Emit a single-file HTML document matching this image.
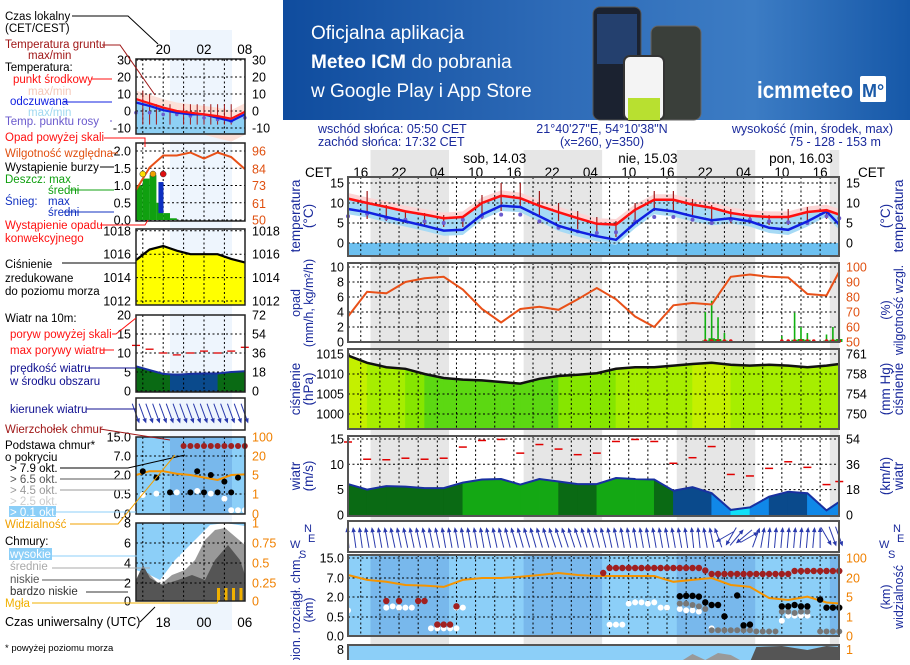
<!DOCTYPE html>
<html><head><meta charset="utf-8">
<style>
body{margin:0;width:910px;height:660px;overflow:hidden;background:#fff;font-family:"Liberation Sans",sans-serif}
svg text{font-family:"Liberation Sans",sans-serif}
</style></head>
<body>
<svg id="c" width="910" height="660" viewBox="0 0 910 660">
<defs>
<linearGradient id="bg" x1="0" x2="1" y1="0" y2="0">
<stop offset="0" stop-color="#0f4c9e"/><stop offset="0.45" stop-color="#2f6cb8"/><stop offset="0.75" stop-color="#3c7cc4"/><stop offset="1" stop-color="#1658a8"/>
</linearGradient>
</defs>
<g>
<rect x="283" y="0" width="627" height="120" fill="url(#bg)"/>
<text x="311" y="39" fill="#fff" font-size="19">Oficjalna aplikacja</text>
<text x="311" y="68" fill="#fff" font-size="19"><tspan font-weight="bold">Meteo ICM</tspan> do pobrania</text>
<text x="311" y="97" fill="#fff" font-size="19">w Google Play i App Store</text>
<rect x="593" y="7" width="48" height="113" rx="7" fill="#1b2230" stroke="#555"/>
<rect x="597" y="14" width="40" height="50" fill="#24406e"/>
<rect x="651" y="26" width="50" height="94" rx="7" fill="#3a3f3a" stroke="#666"/>
<rect x="624" y="56" width="40" height="64" rx="6" fill="#f4f4f4" stroke="#333" stroke-width="2"/>
<rect x="628" y="98" width="32" height="22" fill="#b8e030"/>
<text x="757" y="98" fill="#fff" font-size="23" font-weight="bold" textLength="96" lengthAdjust="spacingAndGlyphs">icmmeteo</text>
<rect x="860" y="76" width="26" height="26" fill="#fff" rx="2"/>
<text x="862" y="97" fill="#1a5aa8" font-size="18" font-weight="bold">M°</text>
</g>
<g id="legend" font-size="11.5">
<rect x="170" y="30" width="62" height="600" fill="#eef5fd"/>
<text x="5" y="20">Czas lokalny</text><text x="5" y="32">(CET/CEST)</text>
<text x="5" y="48" fill="#a01818">Temperatura gruntu</text><text x="28" y="59" fill="#a01818">max/min</text>
<text x="5" y="71">Temperatura:</text>
<text x="13" y="83" fill="#ff1010">punkt środkowy</text>
<text x="28" y="95" fill="#f5c8b8">max/min</text>
<text x="10" y="105" fill="#1020e0">odczuwana</text>
<text x="28" y="116" fill="#a0d8f0">max/min</text>
<text x="5" y="125" fill="#6a5acd">Temp. punktu rosy</text>
<text x="5" y="141" fill="#ff1010">Opad powyżej skali</text>
<text x="5" y="157" fill="#e05010">Wilgotność względna</text>
<text x="5" y="171">Wystąpienie burzy</text>
<text x="5" y="183" fill="#10a010">Deszcz: max</text>
<text x="48" y="194" fill="#10a010">średni</text>
<text x="5" y="205" fill="#1030c0">Śnieg:</text><text x="48" y="205" fill="#1030c0">max</text>
<text x="48" y="216" fill="#1030c0">średni</text>
<text x="5" y="229" fill="#ff1010">Wystąpienie opadu</text>
<text x="5" y="242" fill="#ff1010">konwekcyjnego</text>
<text x="5" y="268">Ciśnienie</text><text x="5" y="282">zredukowane</text><text x="5" y="295">do poziomu morza</text>
<text x="5" y="322">Wiatr na 10m:</text>
<text x="10" y="338" fill="#ff1010">poryw powyżej skali</text>
<text x="10" y="354" fill="#ff1010">max porywy wiatru</text>
<text x="10" y="372" fill="#101090">prędkość wiatru</text>
<text x="10" y="385" fill="#101090">w środku obszaru</text>
<text x="10" y="413" fill="#101090">kierunek wiatru</text>
<text x="5" y="433" fill="#a01818">Wierzchołek chmur</text>
<text x="5" y="449">Podstawa chmur*</text><text x="5" y="461">o pokryciu</text>
<text x="10" y="472">&gt; 7.9 okt.</text>
<text x="10" y="483" fill="#555">&gt; 6.5 okt.</text>
<text x="10" y="494" fill="#999">&gt; 4.5 okt.</text>
<text x="10" y="505" fill="#ccc">&gt; 2.5 okt.</text>
<rect x="9" y="506" width="47" height="11" fill="#8ccff8"/>
<text x="10" y="516" fill="#fff">&gt; 0.1 okt.</text>
<text x="5" y="528" fill="#f0a000">Widzialność</text>
<text x="5" y="545">Chmury:</text>
<rect x="9" y="548" width="43" height="12" fill="#8ccff8"/>
<text x="10" y="558" fill="#fff">wysokie</text>
<text x="10" y="570" fill="#aaa">średnie</text>
<text x="10" y="583" fill="#555">niskie</text>
<text x="10" y="595" fill="#333">bardzo niskie</text>
<text x="5" y="607" fill="#f0b000">Mgła</text>
<text x="5" y="626" font-size="12.5">Czas uniwersalny (UTC)</text>
<text x="5" y="651" font-size="9.5">* powyżej poziomu morza</text>
</g>
</svg>
<script>
const NS='http://www.w3.org/2000/svg';
const svg=document.getElementById('c');
function mk(tag,a,p){const e=document.createElementNS(NS,tag);for(const k in a)e.setAttribute(k,a[k]);(p||svg).appendChild(e);return e;}
function tx(x,y,s,a,p){const e=mk('text',Object.assign({x:x,y:y},a||{}),p);e.textContent=s;return e;}

/* ===== main chart data (t = hours from 14:00 CET 13.03) ===== */
const T=[0,3,6,9,12,15,18,21,24,27,30,33,36,39,42,45,48,51,54,57,60,63,66,69,72,75,77];
const tempMid=[11.1,10,9,7.9,7.1,6.2,6.5,10,11.8,11.2,9.3,7.7,6.2,4.8,4.6,8.3,10.8,10.8,9.6,8.8,7.5,6.8,6.5,6.5,7.75,8.2,7.1];
const tempFelt=[8.5,7.7,6.5,5.4,4.3,3.1,3.3,7.1,9.3,9,6.7,4.3,2.9,1.7,0.8,5,8.5,7.9,6.7,5.7,6.2,5.4,3.8,3.3,5.4,7.9,4.6];
const dewPoint=[6.7,7.3,6.2,5.8,5.4,5,5.8,6.7,7.1,7.1,5.4,3.8,2.9,2.5,2.7,5.4,6.5,6.5,5.8,5,5.8,5.8,5.4,5.2,5,6.7,6.2];
const groundMax=[14,13,9.5,8,7.5,7,6.5,12,15,15,13,10,8,6.5,5.5,10,13,13,11,9.5,8.5,7,7,8.5,9,8.5,8];
const groundMin=[6,6,5.5,5,4.5,4,4,6,8,9,7,5.5,3.5,2.5,1.5,5,8,8,7,6,5,5,4.5,4.5,5.5,6,6];
const humidity=[67,83.5,82.5,90,92.5,93.5,85,72,63,72,73.5,71.5,78.5,86,78.5,67,60,74.5,76,75,93.5,95,93.5,93,82,81,97];
const pressure=[1014.6,1012.8,1011.7,1011.3,1010,1009,1008.6,1008.4,1008,1007.6,1008.8,1009.5,1009.8,1010.2,1011.3,1011.7,1011.7,1012.1,1012.5,1012.8,1012.3,1012.1,1012.3,1012.1,1011.7,1012.1,1012.5];
const windSpeed=[6.1,5,5.7,5.6,5.3,5.3,6.4,7,7.1,6,7.1,6.6,6.1,6.1,7.3,7.1,7,4.8,5.5,4.3,1,1.5,3.6,4.6,4.3,0.9,2.6];
const windGust=[14.4,11,10.9,11.2,11,11.2,13.4,14.7,14.9,12.2,13.9,13,11.9,12.2,14.5,14.9,14.5,10.2,11.3,13.5,8,7.7,9.2,10.5,9.4,6,6.6];
const visibility=[32,18.5,17,14.5,14,13,18.5,20,20,25,32,40,32,28,28,28,28,17,18.5,20,14.5,13,4.8,4.4,5.2,3.9,3.7];
const precipT=[56,57,58,59,60,68,69,70,71,72,73,75,76,77];
const precipMax=[4,5.5,3.3,1.2,0.2,0.8,0.3,3.9,2,1.2,0.3,1,2,3.2];
const precipAvg=[0.2,0.5,0.4,0.2,0,0.1,0.1,0.3,0.4,0.3,0,0.2,0.3,0.4];
const windDir=[-5,-8,-8,-10,-10,-10,-10,-12,-12,-12,-12,-12,-12,-12,-12,-10,-10,-10,-10,-10,-10,-10,-12,-12,-14,-14,-16,-16,-16,-16,-16,-16,-18,-18,-18,-18,-18,-16,-16,-14,-14,-12,-12,-10,-10,-10,-10,-10,-10,-10,-10,-10,-10,-8,-6,-6,-10,-12,-20,-120,-150,40,-130,60,20,10,5,5,5,5,5,5,5,5,0,150,160,160];
const topT=[40,41,42,43,44,45,46,47,48,49,50,51,52,53,54,55,56,57,58,59,60,61,62,63,64,65,66,67,68,69,70,71,72,73,74,75,76,77,6,8,11,12,14,15,16,17];
const topH=[9,11,11,11,11,11,11,11,11,11,11,11,11,11,11,11,10,8.6,8.6,8.6,8.6,8.6,8.6,8.6,8.6,8.6,8.6,8.6,8.6,8.6,9.8,9.8,9.8,9.8,9.8,9.8,9.8,9.8,1.7,1.7,1.7,1.7,0.3,0.3,0.3,1.3];
const blackT=[52,53,54,55,56,57,58,59,61,62,63,68,69,70,71,72,74,75,76,77];
const blackH=[2.2,2.3,2.3,2.1,1.6,1.4,1.4,0.55,2.4,0.28,0.3,1.3,1.3,1.4,1.3,1.3,1.8,1.2,1.2,1.2];
const greyT=[52,53,54,55,56,57,58,59,60,61,62,63,64,65,66,67,68,69,70,71,72,74,75,76,77];
const greyH=[1.5,1.5,1.4,1.3,1.1,0.15,0.15,0.15,0.15,0.15,0.15,0.15,0.12,0.12,0.12,0.12,0.9,0.9,0.8,0.9,0.9,0.12,0.12,0.12,0.12];
const whiteT=[0,6,7,8,9,10,13,14,15,16,17,17,18,41,42,43,44,45,46,47,48,49,50,52,53,54,55,57,68,69,70,71,72];
const whiteH=[1,1.2,1.3,1.2,1.2,1.2,0.2,0.2,0.2,0.2,0.2,1.2,1.2,0.3,0.3,0.3,1.5,1.6,1.6,1.5,1.6,1.2,1.2,1.1,1.0,1.0,0.9,0.2,0.4,0.6,0.6,0.6,0.6];
const nightStart=[3.53,27.53,51.53,75.53];
const nightEnd=[15.83,39.83,63.83,77];
const hourLabels=['16','22','04','10','16','22','04','10','16','22','04','10','16'];
const dayLabels=['sob, 14.03','nie, 15.03','pon, 16.03'];
const dayT=[23,47,71];
const tempTicks=[15,10,5,0];
const precTicks=[10,8,6,4,2,0];
const humTicks=[100,90,80,70,60,50];
const presTicks=[1015,1010,1005,1000];
const mmHgTicks=['761','758','754','750'];
const windTicks=[15,10,5,0];
const kmhTicks=['54','36','18','0'];
const cloudTicks=['15.0','7.0','2.0','0.5','0.0'];
const visTicks=['100','20','5','1','0'];

const X0=348,X1=839,PX=6.38;
const X=t=>X0+t*PX;
const yT=v=>243-v*4;
const yP=v=>342-v*7.5;
const yH=h=>yP((h-50)/5);
const yPr=p=>354+(1015-p)*4;
const yW=v=>515-v*5.07;
const CY=[636,617,597,578,558];
function pw(v,ks){for(let i=0;i<ks.length-1;i++){if(v<=ks[i+1]){return CY[i]+(v-ks[i])/(ks[i+1]-ks[i])*(CY[i+1]-CY[i]);}}return CY[4];}
const yC=v=>pw(v,[0,0.5,2,7,15]);
const yV=v=>pw(v,[0,1,5,20,100]);
const line=(xs,ys)=>xs.map((x,i)=>(i?'L':'M')+x.toFixed(1)+','+ys[i].toFixed(1)).join('');

const PAN={temp:[177,256],prec:[263,342],pres:[349,429],wind:[436,516],dir:[521,552],cloud:[555,636],cl2:[645,664]};

for(let i=0;i<nightStart.length;i++){
  const r=mk('rect',{x:X(nightStart[i]),y:150,width:X(nightEnd[i])-X(nightStart[i]),height:510,fill:'#e6e6e6'});
  
  
}
const hd=mk('g',{fill:'#1a2a9c','font-size':12.5});


tx(318,133,'wschód słońca: 05:50 CET',{},hd);tx(318,146,'zachód słońca: 17:32 CET',{},hd);
tx(602,133,'21°40\'27"E, 54°10\'38"N',{'text-anchor':'middle'},hd);tx(602,146,'(x=260,  y=350)',{'text-anchor':'middle'},hd);
tx(893,133,'wysokość (min, środek, max)',{'text-anchor':'end'},hd);tx(835,146,'75 - 128 - 153 m',{'text-anchor':'middle'},hd);
const tl=mk('g',{'font-size':13.5});


tx(305,177,'CET',{},tl);tx(858,177,'CET',{},tl);
hourLabels.forEach((s,i)=>{tx(X(2+6*i),177,s,{'text-anchor':'middle'},tl);});
dayLabels.forEach((s,i)=>{tx(X(dayT[i]),163,s,{'text-anchor':'middle'},tl);});

function grid(p,ys){
  const g=mk('g',{stroke:'#000','stroke-width':1,'stroke-dasharray':'2,2.5',fill:'none'});
  
  
  for(let t=2;t<77;t+=3)mk('line',{x1:X(t),x2:X(t),y1:p[0],y2:p[1]},g);
  ys.forEach(y=>mk('line',{x1:X0,x2:X1,y1:y,y2:y},g));
}
function frame(p,name){
  const r=mk('rect',{x:X0,y:p[0],width:X1-X0,height:p[1]-p[0],fill:'none',stroke:'#555','stroke-width':2});
  
  
}
function ticks(vals,ys,side,color){
  const g=mk('g',{'font-size':12.5,fill:color||'#000','text-anchor':side=='l'?'end':'start'});
  
  
  vals.forEach((v,i)=>tx(side=='l'?344:846,ys[i]+4.5,String(v),{},g));
}
function vlab(cx,cy,a,b,name,fs){
  const g=mk('g',{fill:'#1a2a9c','font-size':fs||13.5,'text-anchor':'middle',transform:'translate('+cx+','+cy+') rotate(-90)'});
  
  
  tx(0,0,a,{},g);tx(0,13,b,{},g);
}

/* temperature */
{const p=PAN.temp;
const bz=mk('rect',{x:X0,y:yT(0),width:X1-X0,height:p[1]-yT(0),fill:'#6cc0f0'});


const xs=T.map(X);
const pk=mk('path',{d:line(xs,tempMid.map(v=>yT(v+1.4)))+line(xs.slice().reverse(),tempMid.slice().reverse().map(yT)).replace('M','L')+'Z',fill:'#fcd6d6'});


const lb=mk('path',{d:line(xs,tempMid.map(yT))+line(xs.slice().reverse(),tempFelt.slice().reverse().map(v=>yT(v-1.3))).replace('M','L')+'Z',fill:'#a6daf5'});


grid(p,tempTicks.map(yT));
T.forEach((t,i)=>{const b=mk('line',{x1:X(t),x2:X(t),y1:yT(groundMax[i]),y2:yT(groundMin[i]),stroke:'#a01818','stroke-width':1.2});

});
T.forEach((t,i)=>{const d=mk('circle',{cx:X(t),cy:yT(dewPoint[i]),r:2,fill:'#6a5acd'});

});
const bl=mk('path',{d:line(xs,tempFelt.map(yT)),stroke:'#1020e0','stroke-width':2.5,fill:'none'});


const rl=mk('path',{d:line(xs,tempMid.map(yT)),stroke:'#ff1010','stroke-width':2.5,fill:'none'});


frame(p,'temp-panel');
ticks(tempTicks,tempTicks.map(yT),'l');ticks(tempTicks,tempTicks.map(yT),'r');
vlab(300,216,'temperatura','(°C)','temp-y-title');vlab(890,216,'(°C)','temperatura','temp-y2-title');}

/* precipitation + humidity */
{const p=PAN.prec;
grid(p,precTicks.map(yP));
precipT.forEach((t,i)=>{
  const b=mk('rect',{x:X(t)-0.8,y:yP(precipMax[i]),width:1.6,height:342-yP(precipMax[i]),fill:'#10b010'});
  
  
  const a=mk('rect',{x:X(t)-3.2,y:yP(precipAvg[i]),width:6.4,height:342-yP(precipAvg[i]),fill:'#10b010'});
  
  
  const c=mk('circle',{cx:X(t),cy:341,r:1.8,fill:'#e01010'});
  
  
});
const hl=mk('path',{d:line(T.map(X),humidity.map(yH)),stroke:'#e85018','stroke-width':2,fill:'none'});


frame(p,'precip-panel');
ticks(precTicks,precTicks.map(yP),'l');ticks(humTicks,humTicks.map(yH),'r','#e05010');
vlab(300,303,'opad','(mm/h, kg/m²/h)','precip-y-title',12.5);vlab(890,310,'(%)','wilgotność wzgl.','humidity-y-title',12.5);}

/* pressure */
{const p=PAN.pres;
for(let i=0;i<T.length-1;i++){
  const m=(pressure[i]+pressure[i+1])/2;
  const col=m>1012.4?'#c4f000':m>1011?'#a6ee00':m>1009.5?'#86e600':'#5cd812';
  const s=mk('path',{d:'M'+X(T[i])+','+yPr(pressure[i])+'L'+X(T[i+1])+','+yPr(pressure[i+1])+'L'+X(T[i+1])+','+p[1]+'L'+X(T[i])+','+p[1]+'Z',fill:col,stroke:col,'stroke-width':0.5});
  
  
}
grid(p,presTicks.map(yPr));
const pl=mk('path',{d:line(T.map(X),pressure.map(yPr)),stroke:'#111','stroke-width':2.5,fill:'none'});


frame(p,'pressure-panel');
ticks(presTicks,presTicks.map(yPr),'l');ticks(mmHgTicks,presTicks.map(yPr),'r');
vlab(300,389,'ciśnienie','(hPa)','pressure-y-title');vlab(890,389,'(mm Hg)','ciśnienie','pressure-y2-title');}

/* wind */
{const p=PAN.wind;
grid(p,windTicks.map(yW));
for(let i=0;i<T.length-1;i++){
  const m=(windSpeed[i]+windSpeed[i+1])/2;
  const col=m<1.6?'#10e0f8':m<3.2?'#1088e8':m<5.2?'#0a4a8c':m<6.5?'#0a6a14':'#14a814';
  const s=mk('path',{d:'M'+X(T[i])+','+yW(windSpeed[i])+'L'+X(T[i+1])+','+yW(windSpeed[i+1])+'L'+X(T[i+1])+','+p[1]+'L'+X(T[i])+','+p[1]+'Z',fill:col,stroke:col,'stroke-width':0.5});
  
  
}
const wl=mk('path',{d:line(T.map(X),windSpeed.map(yW)),stroke:'#1830a0','stroke-width':2,fill:'none'});


T.forEach((t,i)=>{const g=mk('line',{x1:X(t)-4,x2:X(t)+4,y1:yW(windGust[i]),y2:yW(windGust[i]),stroke:'#e00000','stroke-width':1.5});

});
frame(p,'wind-panel');
ticks(windTicks,windTicks.map(yW),'l');ticks(kmhTicks,windTicks.map(yW),'r');
vlab(300,476,'wiatr','(m/s)','wind-y-title');vlab(890,476,'(km/h)','wiatr','wind-y2-title');}

/* wind direction */
{const p=PAN.dir;
const bgd=mk('rect',{x:X0,y:p[0],width:X1-X0,height:p[1]-p[0],fill:'#fff'});


windDir.forEach((d,t)=>{
  const g=mk('g',{transform:'translate('+X(t)+',537) rotate('+d+')',stroke:'#2a3aac','stroke-width':1,fill:'#2a3aac'});
  
  
  mk('line',{x1:0,y1:11,x2:0,y2:-8},g);
  mk('path',{d:'M0,-10L-2.2,-5L2.2,-5Z',stroke:'none'},g);
});
frame(p,'direction-panel');
[294,883].forEach(c=>{const g=mk('g',{fill:'#1a2a9c','font-size':11});


tx(c+10,532,'N',{},g);tx(c-4,548,'W',{},g);tx(c+5,558,'S',{},g);tx(c+14,542,'E',{},g);});}

/* clouds / visibility */
{const p=PAN.cloud;
const bgc=mk('rect',{x:X0,y:p[0],width:X1-X0,height:p[1]-p[0],fill:'#8ccff8'});


for(let i=0;i<nightStart.length;i++){const r=mk('rect',{x:X(nightStart[i]),y:p[0],width:X(nightEnd[i])-X(nightStart[i]),height:p[1]-p[0],fill:'#78b8ec'});

}
grid(p,CY);
const vl=mk('path',{d:line(T.map(X),visibility.map(yV)),stroke:'#f59400','stroke-width':2,fill:'none'});


whiteT.forEach((t,i)=>{const c=mk('circle',{cx:X(t),cy:yC(whiteH[i]),r:3,fill:'#fff'});

});
greyT.forEach((t,i)=>{const c=mk('circle',{cx:X(t),cy:yC(greyH[i]),r:3,fill:'#777'});

});
blackT.forEach((t,i)=>{const c=mk('circle',{cx:X(t),cy:yC(blackH[i]),r:3.2,fill:'#000'});

});
topT.forEach((t,i)=>{const c=mk('circle',{cx:X(t),cy:yC(topH[i]),r:3.2,fill:'#a02020'});

});
frame(p,'cloud-panel');
ticks(cloudTicks,CY.slice().reverse(),'l');ticks(visTicks,CY.slice().reverse(),'r','#f08000');
vlab(300,610,'pion. rozciągł. chm.','(km)','cloud-y-title',12.5);vlab(890,597,'(km)','widzialność','visibility-y-title',12.5);}

/* bottom cloud cover panel (cut off) */
{const p=PAN.cl2;
const b=mk('rect',{x:X0,y:p[0],width:X1-X0,height:p[1]-p[0],fill:'#8ccff8',stroke:'#555','stroke-width':2});


const g1=mk('path',{d:'M'+X(52)+',662L'+X(54)+',654L'+X(56)+',660L'+X(58)+',653L'+X(60)+',655L'+X(62)+',662Z',fill:'#999'});


const g2=mk('path',{d:'M'+X(63)+',662L'+X(64)+',647L'+X(68)+',646L'+X(72)+',650L'+X(75)+',646L'+X(77)+',647L'+X(77)+',662Z',fill:'#555'});


tx(344,654,'8',{'text-anchor':'end','font-size':12.5});tx(846,654,'1',{fill:'#f08000','font-size':12.5});}

/* ===== mini legend chart ===== */
const mH=[0,2,4,6,8,10,12,14,16];
const mTemp=[7,4.5,2,0,-1,-2,-3,-4.5,-0.5];
const mFelt=[5,3,0.5,-1,-2,-2,-4,-6,-2];
const mDew=[-1,-1,-2,-2,-3,-4,-5,-6,-4];
const mHum=[70,85,93,93,95,91,95,92,84];
const mPres=[1015.5,1016.4,1016.7,1016.3,1016,1016,1016,1015.6,1015.3];
const mWind=[6.5,5.5,4.5,4.3,4.5,4.6,4.6,5,5.2];
const mGust=[12,11,10,9.5,10,10.5,10,10.5,11.5];
const mVis=[5,8,8,6,5,4.5,4,5,5.5];
const mRainH=[0,1,2,3,4,5];
const mRain=[1.0,1.2,1.3,0.5,0.2,0.05];
const mx=h=>136+h*6.8;
const MP={temp:[59,134],prec:[143,221],pres:[229,305],wind:[315,392],dir:[398,430],cloud:[437,514],cl2:[523,601]};
function mgrid(p,ys){const g=mk('g',{stroke:'#000','stroke-dasharray':'2,2.5',fill:'none'});


[1,4,7,10,13].forEach(h=>mk('line',{x1:mx(h),x2:mx(h),y1:p[0],y2:p[1]},g));ys.forEach(y=>mk('line',{x1:136,x2:245,y1:y,y2:y},g));}
function mframe(p){const r=mk('rect',{x:136,y:p[0],width:109,height:p[1]-p[0],fill:'none',stroke:'#222','stroke-width':1.5});

}
function mtick(labs,ys,side,col){const g=mk('g',{'font-size':12.5,fill:col||'#000','text-anchor':side=='l'?'end':'start'});


labs.forEach((s,i)=>tx(side=='l'?131:252,ys[i]+4.5,s,{},g));}
const mxs=mH.map(mx);
{const yt=v=>111-v*1.7;
const a=mk('path',{d:line(mxs,mTemp.map(v=>yt(v+5)))+line(mxs.slice().reverse(),mFelt.slice().reverse().map(v=>yt(v-12))).replace('M','L')+'Z',fill:'#fde0d8'});


const b=mk('path',{d:line(mxs,mTemp.map(yt))+'L245,134L136,134Z',fill:'#8ed0f4'});


mgrid(MP.temp,[30,20,10,0,-10].map(yt));
[1,2,3,5,7,8,9,10,11,12,13,14].forEach(h=>{const l=mk('line',{x1:mx(h),x2:mx(h),y1:yt(h<3?14-h*2:4),y2:yt(-8),stroke:'#a01818'});

});
mDew.forEach((v,i)=>{const c=mk('circle',{cx:mxs[i],cy:yt(v),r:1.8,fill:'#6a5acd'});

});
const f=mk('path',{d:line(mxs,mFelt.map(yt)),stroke:'#1020e0','stroke-width':2.2,fill:'none'});


const r=mk('path',{d:line(mxs,mTemp.map(yt)),stroke:'#ff1010','stroke-width':2.2,fill:'none'});


mframe(MP.temp);
mtick(['30','20','10','0','-10'],[30,20,10,0,-10].map(yt),'l');mtick(['30','20','10','0','-10'],[30,20,10,0,-10].map(yt),'r');
const tlm=mk('g',{'font-size':13.5,'text-anchor':'middle'});


tx(mx(4),54,'20',{},tlm);tx(mx(10),54,'02',{},tlm);tx(mx(16),54,'08',{},tlm);
tx(mx(4),627,'18',{},tlm);tx(mx(10),627,'00',{},tlm);tx(mx(16),627,'06',{},tlm);}
{const yp=v=>220-v*34.5;const yh=h=>220-(h-50)*1.5;
mgrid(MP.prec,[2,1.5,1,0.5,0].map(yp));
mRainH.forEach((h,i)=>{const b=mk('rect',{x:mx(h),y:yp(mRain[i]),width:6.8,height:220-yp(mRain[i]),fill:'#10a010'});

});
const s=mk('rect',{x:mx(3.3),y:yp(1.1),width:5,height:yp(0.2)-yp(1.1),fill:'#1030c0'});


const h=mk('path',{d:line(mxs,mHum.map(yh)),stroke:'#e85018','stroke-width':2,fill:'none'});


[[1,'#ffe000'],[2.5,'#f0a000'],[4,'#e01010']].forEach(c=>{const d=mk('circle',{cx:mx(c[0]),cy:174,r:3,fill:c[1],stroke:'#333','stroke-width':0.5});

});
mframe(MP.prec);
mtick(['2.0','1.5','1.0','0.5','0.0'],[2,1.5,1,0.5,0].map(yp),'l');mtick(['96','84','73','61','50'],[96,84,73,61,50].map(yh),'r','#e05010');}
{const yp=v=>301-(v-1012)*11.7;
const a=mk('path',{d:line(mxs,mPres.map(yp))+'L245,305L136,305Z',fill:'#ffff00'});


mgrid(MP.pres,[1018,1016,1014,1012].map(yp));
const l=mk('path',{d:line(mxs,mPres.map(yp)),stroke:'#000','stroke-width':2.2,fill:'none'});


mframe(MP.pres);
mtick(['1018','1016','1014','1012'],[1018,1016,1014,1012].map(yp),'l');mtick(['1018','1016','1014','1012'],[1018,1016,1014,1012].map(yp),'r');}
{const yw=v=>391-v*3.8;
const a=mk('path',{d:line(mxs,mWind.map(yw))+'L245,392L136,392Z',fill:'#0a6a14'});


const a2=mk('rect',{x:mx(5),y:yw(4.6),width:mx(12)-mx(5),height:392-yw(4.6),fill:'#0a4a8c'});


mgrid(MP.wind,[20,15,10,5,0].map(yw));
const l=mk('path',{d:line(mxs,mWind.map(yw)),stroke:'#1830a0','stroke-width':2,fill:'none'});


mGust.forEach((v,i)=>{const g=mk('line',{x1:mxs[i]-4,x2:mxs[i]+4,y1:yw(v),y2:yw(v),stroke:'#e00000','stroke-width':1.3});

});
mframe(MP.wind);
mtick(['20','15','10','5','0'],[20,15,10,5,0].map(yw),'l');mtick(['72','54','36','18','0'],[20,15,10,5,0].map(yw),'r');}
{for(let h=0;h<=16;h++){const g=mk('g',{transform:'translate('+mx(h)+',414) rotate(160)',stroke:'#2a3aac','stroke-width':1,fill:'#2a3aac'});


mk('line',{x1:0,y1:11,x2:0,y2:-8},g);mk('path',{d:'M0,-10L-2.2,-5L2.2,-5Z',stroke:'none'},g);}
mframe(MP.dir);}
{const ys=[514,494,475,456,437];const yc=v=>pw(v,[0,0.5,2,7,15])-636+514;
const bg=mk('rect',{x:136,y:437,width:109,height:77,fill:'#8ccff8'});


const nb=mk('rect',{x:170,y:437,width:62,height:77,fill:'#78b8ec'});


mgrid(MP.cloud,ys);
const v=mk('path',{d:line(mxs,mVis.map(x=>pw(x,[0,1,5,20,100])-122)),stroke:'#f59400','stroke-width':2,fill:'none'});


[7,8,9,10,11,12,13,14,15,16].forEach(h=>{const c=mk('circle',{cx:mx(h),cy:yc(11),r:3,fill:'#a02020'});

});
[[1,3],[3,1.8],[5,0.7],[8,0.7],[10,0.7],[12,0.7],[14,0.7],[9,3],[11,2],[13,1.5],[15,1.8]].forEach(d=>{const c=mk('circle',{cx:mx(d[0]),cy:yc(d[1]),r:3,fill:'#000'});

});
[[1,0.5],[3,0.6],[6,0.7],[9,0.8],[11,0.6],[13,0.4],[14,0.1],[15,0.1],[16,0.1]].forEach(d=>{const c=mk('circle',{cx:mx(d[0]),cy:yc(d[1]),r:3,fill:'#fff'});

});
mframe(MP.cloud);
mtick(['15.0','7.0','2.0','0.5','0.0'],ys.slice().reverse(),'l');mtick(['100','20','5','1','0'],ys.slice().reverse(),'r','#f08000');}
{const bg=mk('rect',{x:136,y:523,width:109,height:78,fill:'#8ccff8'});


const w=mk('path',{d:'M136,601L136,570L150,575L160,580L175,560L190,545L200,535L210,525L225,523L245,526L245,601Z',fill:'#fff'});


const m=mk('path',{d:'M136,601L136,580L148,573L160,585L172,575L185,570L195,560L205,540L215,530L225,528L245,545L245,601Z',fill:'#999'});


const l=mk('path',{d:'M136,601L136,580L143,565L150,578L162,585L178,580L192,575L205,580L215,560L228,545L240,560L245,575L245,601Z',fill:'#555'});


[0,1,2,3].forEach(i=>{const f=mk('rect',{x:217+i*7.5,y:588,width:3,height:13,fill:'#f0b000'});

});
mgrid(MP.cl2,[523,543,563,583]);
mframe(MP.cl2);
mtick(['8','6','4','2','0'],[523,543,563,583,601],'l');mtick(['1','0.75','0.5','0.25','0'],[523,543,563,583,601],'r','#f08000');}
{const L=[[[72,16],[128,16],[158,44]],[[102,45],[120,45],[155,95]],[[92,79],[112,79]],[[64,102],[112,102]],[[110,121],[112,121]],[[104,138],[145,138],[145,147]],[[118,153],[112,153]],[[100,167],[114,167]],[[70,190],[114,190]],[[64,212],[114,212]],[[100,225],[145,225],[148,220]],[[62,263],[136,263]],[[112,334],[116,334],[136,318]],[[100,350],[114,350]],[[88,368],[136,368]],[[86,409],[136,409]],[[100,429],[170,440]],[[60,468],[128,468],[185,455]],[[60,479],[128,479]],[[60,490],[128,490]],[[56,512],[136,512]],[[70,524],[118,524],[175,455]],[[52,556],[180,556]],[[52,568],[150,568]],[[42,580],[128,580]],[[86,592],[128,592]],[[32,603],[217,603],[220,595]],[[140,622],[155,607]]];
const cols=['#000','#a01818','#ff1010','#1020e0','#6a5acd','#ff1010','#e05010','#000','#10a010','#1030c0','#ff1010','#000','#ff1010','#ff1010','#101090','#101090','#a01818','#000','#555','#999','#8ccff8','#f0a000','#8ccff8','#aaa','#555','#333','#f0b000','#000'];
L.forEach((pts,i)=>{const p=mk('polyline',{points:pts.map(q=>q.join(',')).join(' '),fill:'none',stroke:cols[i],'stroke-width':1});

});}
</script>
</body></html>
